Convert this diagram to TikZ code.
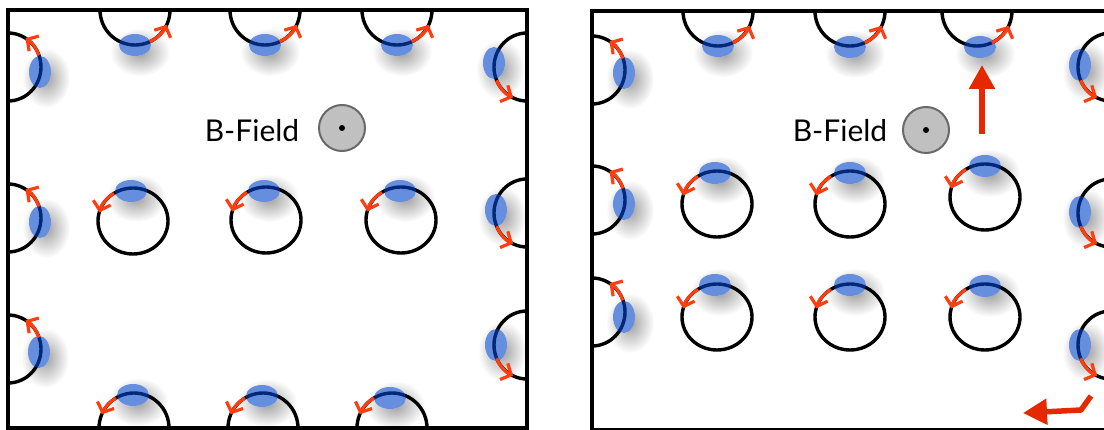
\documentclass[tikz,border=0pt]{standalone}
\usepackage{fontspec}
\setmainfont{Lato}
\usetikzlibrary{arrows.meta,fadings}

\definecolor{partblue}{RGB}{0,67,202}
\definecolor{arrred}{RGB}{255,62,16}
\definecolor{bigred}{RGB}{228,40,0}
\definecolor{fieldgray}{RGB}{192,192,192}
\definecolor{rimgray}{RGB}{105,105,105}

\tikzfading[name=softshadow, inner color=transparent!0, outer color=transparent!100]

\tikzset{
  orbit/.style={line width=3.4pt, black},
  panelframe/.style={line width=3.4pt, black},
  spin/.style={arrred, line width=3.2pt, -{Straight Barb[length=8pt,width=18pt]}},
  push/.style={bigred, line width=5.5pt, line join=round, -{Triangle[length=24pt,width=25pt]}},
  charge/.style={fill=partblue, fill opacity=0.6},
  halo/.style={fill=black, opacity=0.38, path fading=softshadow},
  fieldtext/.style={font=\fontsize{30}{36}\selectfont, inner sep=0pt},
  fieldsym/.style={fill=fieldgray, draw=rimgray, line width=2pt},
}

% particle positions: lying (wide) and standing (tall) ellipses
\def\lying{135/45, 265/45, 397/45, 131/191, 264/191, 400/191, 133/395, 262/396, 390/398,
  718/46, 850/47, 980/47, 715/173, 850/173, 985/166, 715/285, 850/285, 985/286}
\def\standing{40/72, 40/222, 39/352, 494/63, 496/210, 496/345,
  624/73, 624/204, 624/317, 1080/65, 1080/212, 1080/345}

% orbits: centre x / centre y / x radius / y radius
\def\orbitsL{135/10/35/35, 265/10/35/35, 397/10/35/35,
  8/67/33/34, 8/218/33/34, 8/349/33/34,
  527/67/33/34, 527/213/33/34, 527/345/33/34,
  133/221/35/33, 266/220/35/33, 401/220/35/33,
  134/428/35/35, 263/428/35/35, 392/428/35/35}
\def\orbitsR{718/11/35/35, 850/11/35/35, 977/11/35/35,
  592/70/33/34, 592/200/33/34, 592/312/33/34,
  1111/67/33/34, 1111/213/33/34, 1111/345/33/34,
  717/204/35/33, 850/204/35/33, 985/197/35/33,
  717/317/35/33, 850/317/35/33, 985/317/35/33}

\begin{document}
\begin{tikzpicture}[x=1pt, y=-1pt]
\useasboundingbox (0,0) rectangle (1104,430);

% soft shadows under the particles
\foreach \x/\y in \lying {\fill[halo] (\x+5,\y+7) ellipse[x radius=30, y radius=24];}
\foreach \x/\y in \standing {\fill[halo] (\x+6,\y+6) ellipse[x radius=24, y radius=30];}
% keep the shadow out of the particle itself
\foreach \x/\y in \lying {\fill[white] (\x,\y) ellipse[x radius=16, y radius=11];}
\foreach \x/\y in \standing {\fill[white] (\x,\y) ellipse[x radius=11, y radius=16];}

% orbits, cut at the edges of each panel
\begin{scope}
  \clip (8,10) rectangle (527,428);
  \foreach \cx/\cy/\rx/\ry in \orbitsL {\draw[orbit] (\cx,\cy) ellipse[x radius=\rx, y radius=\ry];}
\end{scope}
\begin{scope}
  \clip (592,11) rectangle (1111,430);
  \foreach \cx/\cy/\rx/\ry in \orbitsR {\draw[orbit] (\cx,\cy) ellipse[x radius=\rx, y radius=\ry];}
\end{scope}

% panel frames
\draw[panelframe] (8,10) rectangle (527,428);
\draw[panelframe] (592,11) rectangle (1111,430);

% particles
\foreach \x/\y in \lying {\fill[charge] (\x,\y) ellipse[x radius=16, y radius=11];}
\foreach \x/\y in \standing {\fill[charge] (\x,\y) ellipse[x radius=11, y radius=16];}

% direction of motion along each orbit
\foreach \cx/\cy in {135/10, 265/10, 397/10, 718/11, 850/11, 977/11}
  {\draw[spin] (\cx,\cy) ++(65:35 and 35) arc[start angle=65, end angle=25, x radius=35, y radius=35];}
\foreach \cx/\cy in {8/67, 8/218, 8/349, 592/70, 592/200, 592/312}
  {\draw[spin] (\cx,\cy) ++(-20:33 and 34) arc[start angle=-20, end angle=-58, x radius=33, y radius=34];}
\foreach \cx/\cy in {527/67, 527/213, 527/345, 1111/67, 1111/213, 1111/345}
  {\draw[spin] (\cx,\cy) ++(157:33 and 34) arc[start angle=157, end angle=115, x radius=33, y radius=34];}
\foreach \cx/\cy in {133/221, 266/220, 401/220, 717/204, 850/204, 985/197, 717/317, 850/317, 985/317}
  {\draw[spin] (\cx,\cy) ++(237:35 and 33) arc[start angle=237, end angle=195, x radius=35, y radius=33];}
\foreach \cx/\cy in {134/428, 263/428, 392/428}
  {\draw[spin] (\cx,\cy) ++(239:35 and 35) arc[start angle=239, end angle=203, x radius=35, y radius=35];}

% field labels and out-of-plane symbols
\node[fieldtext] (ftL) at (252,131) {B-Field};
\draw[fieldsym] (342,128) circle[radius=23];
\fill (342,128) circle[radius=3];
\node[fieldtext] (ftR) at (840,131) {B-Field};
\draw[fieldsym] (926,130) circle[radius=23];
\fill (926,130) circle[radius=3];

% drift arrows
\coordinate (upfoot) at (982,134);
\coordinate (uptip) at (982,65);
\draw[push] (upfoot) -- (uptip);
\coordinate (bendstart) at (1091,396);
\coordinate (bendknee) at (1081,410);
\coordinate (bendtip) at (1023,413);
\draw[push] (bendstart) -- (bendknee) -- (bendtip);
\end{tikzpicture}
\end{document}
